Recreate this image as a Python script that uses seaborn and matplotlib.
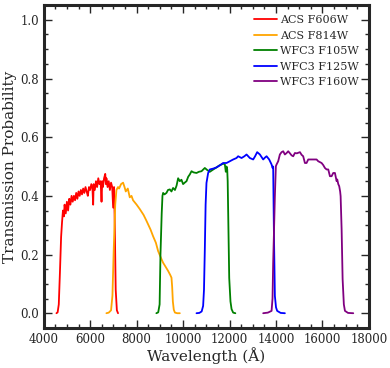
import numpy as np
import pandas as pd
import matplotlib
matplotlib.use("Agg")
import matplotlib.pyplot as plt
import seaborn as sns
from matplotlib.ticker import MultipleLocator

# filter curves (wavelength in Angstrom, transmission)
f606w_wave = [4550, 4600, 4650, 4700, 4750, 4790, 4830, 4870, 4900, 4950, 5000, 5050, 5100,
              5150, 5200, 5250, 5300, 5350, 5400, 5450, 5500, 5550, 5600, 5650, 5700,
              5750, 5800, 5850, 5900, 5950, 6000, 6050, 6100, 6130, 6150, 6200, 6250,
              6300, 6350, 6400, 6450, 6490, 6520, 6550, 6600, 6650, 6680, 6700, 6750,
              6800, 6850, 6900, 6950, 6990, 7030, 7060, 7100, 7150, 7200]
f606w_trans = [0.0, 0.003, 0.03, 0.14, 0.26, 0.31, 0.35, 0.33, 0.37, 0.34, 0.38, 0.35, 0.39,
               0.37, 0.40, 0.38, 0.40, 0.385, 0.41, 0.39, 0.415, 0.40, 0.42, 0.405, 0.425,
               0.41, 0.43, 0.415, 0.40, 0.43, 0.42, 0.44, 0.425, 0.37, 0.44, 0.42, 0.45,
               0.43, 0.46, 0.44, 0.45, 0.38, 0.45, 0.43, 0.46, 0.475, 0.44, 0.46, 0.43,
               0.45, 0.42, 0.445, 0.43, 0.36, 0.43, 0.30, 0.08, 0.01, 0.0]

f814w_wave = [6700, 6800, 6900, 6960, 7016, 7080, 7131, 7200, 7245, 7330, 7418, 7480, 7533,
              7620, 7705, 7780, 7847, 8000, 8136, 8300, 8424, 8600, 8711, 8830, 8925,
              9040, 9141, 9250, 9357, 9450, 9501, 9530, 9560, 9600, 9650, 9750, 9860]
f814w_trans = [0.0, 0.002, 0.01, 0.06, 0.22, 0.37, 0.42, 0.43, 0.425, 0.44, 0.445, 0.43, 0.415,
               0.425, 0.395, 0.40, 0.385, 0.37, 0.355, 0.335, 0.315, 0.285, 0.262, 0.24, 0.212,
               0.19, 0.172, 0.158, 0.144, 0.13, 0.121, 0.09, 0.04, 0.012, 0.002, 0.0, 0.0]

f105w_wave = [8850, 8930, 8990, 9027, 9080, 9113, 9141, 9200, 9285, 9350, 9428, 9500, 9570,
              9650, 9720, 9787, 9859, 9930, 10001, 10070, 10148, 10220, 10290, 10363, 10450,
              10578, 10680, 10794, 10870, 10936, 11040, 11151, 11300, 11440, 11550, 11655,
              11730, 11798, 11840, 11870, 11900, 11920, 11942, 11986, 12040, 12087, 12156, 12250]
f105w_trans = [0.0, 0.003, 0.03, 0.2, 0.34, 0.40, 0.41, 0.405, 0.41, 0.42, 0.422, 0.415, 0.427,
               0.42, 0.435, 0.46, 0.45, 0.455, 0.44, 0.445, 0.45, 0.465, 0.473, 0.484, 0.48,
               0.478, 0.482, 0.484, 0.49, 0.495, 0.488, 0.482, 0.49, 0.497, 0.503, 0.507,
               0.51, 0.507, 0.482, 0.50, 0.49, 0.45, 0.34, 0.12, 0.04, 0.014, 0.002, 0.0]

f125w_wave = [10578, 10700, 10800, 10863, 10900, 10936, 10970, 11007, 11079, 11151, 11300,
              11440, 11600, 11724, 11870, 12013, 12156, 12300, 12370, 12517, 12640, 12732,
              12874, 13017, 13100, 13189, 13306, 13448, 13520, 13594, 13706, 13809, 13852,
              13878, 13908, 13951, 14000, 14050, 14200, 14382]
f125w_trans = [0.0, 0.001, 0.006, 0.025, 0.08, 0.218, 0.37, 0.444, 0.478, 0.49, 0.493,
               0.497, 0.505, 0.512, 0.512, 0.518, 0.524, 0.529, 0.535, 0.529, 0.535, 0.541,
               0.529, 0.524, 0.535, 0.549, 0.541, 0.524, 0.53, 0.535, 0.524, 0.507, 0.495,
               0.5, 0.286, 0.059, 0.02, 0.008, 0.001, 0.0]

f160w_wave = [13448, 13650, 13809, 13850, 13878, 13920, 13951, 13994, 14024, 14094, 14166,
              14240, 14310, 14382, 14456, 14525, 14600, 14671, 14740, 14813, 14900, 15030,
              15100, 15170, 15244, 15315, 15387, 15458, 15602, 15747, 15817, 15962, 16033,
              16106, 16178, 16249, 16321, 16393, 16463, 16536, 16609, 16636, 16680, 16720,
              16760, 16781, 16824, 16867, 16920, 16967, 17100, 17325]
f160w_trans = [0.0, 0.002, 0.008, 0.05, 0.172, 0.30, 0.399, 0.501, 0.507, 0.518, 0.541,
               0.549, 0.552, 0.541, 0.546, 0.552, 0.545, 0.538, 0.535, 0.546, 0.545, 0.549,
               0.54, 0.535, 0.512, 0.512, 0.524, 0.524, 0.524, 0.524, 0.518, 0.512, 0.505,
               0.495, 0.49, 0.49, 0.467, 0.467, 0.478, 0.478, 0.45, 0.456, 0.44, 0.433,
               0.415, 0.399, 0.286, 0.116, 0.03, 0.008, 0.001, 0.0]

labels = ["ACS F606W", "ACS F814W", "WFC3 F105W", "WFC3 F125W", "WFC3 F160W"]
colors = ["red", "orange", "green", "blue", "purple"]
curves = [(f606w_wave, f606w_trans), (f814w_wave, f814w_trans), (f105w_wave, f105w_trans),
          (f125w_wave, f125w_trans), (f160w_wave, f160w_trans)]

sns.set_style("ticks")
plt.rcParams['font.family'] = ['DejaVu Serif']
plt.rcParams['mathtext.fontset'] = 'dejavuserif'

fig = plt.figure(figsize=(3.9, 3.68), dpi=100)
ax = fig.add_axes([0.112, 0.109, 0.834, 0.877])

for (w, t), lab, col in zip(curves, labels, colors):
    df = pd.DataFrame({'wave': w, 'trans': t})
    sns.lineplot(x='wave', y='trans', data=df, ax=ax, color=col, lw=1.3,
                 label=lab, sort=False, estimator=None)

ax.set_xlim(4000, 18000)
ax.set_ylim(-0.05, 1.05)
ax.xaxis.set_major_locator(MultipleLocator(2000))
ax.xaxis.set_minor_locator(MultipleLocator(500))
ax.yaxis.set_major_locator(MultipleLocator(0.2))
ax.yaxis.set_minor_locator(MultipleLocator(0.05))
ax.tick_params(which='both', direction='in', top=True, right=True, labelsize=8.5, width=1)
ax.tick_params(which='major', length=6)
ax.tick_params(which='minor', length=3)
for s in ax.spines.values():
    s.set_linewidth(2.2)
    s.set_visible(True)

ax.set_xlabel('Wavelength (Å)', fontsize=11, labelpad=1)
ax.set_ylabel('Transmission Probability', fontsize=11, labelpad=2)
ax.legend(loc='upper right', frameon=False, fontsize=8, handlelength=2.1,
          handletextpad=0.3, labelspacing=0.5, borderaxespad=0.5)

fig.savefig('out.png', dpi=100)
